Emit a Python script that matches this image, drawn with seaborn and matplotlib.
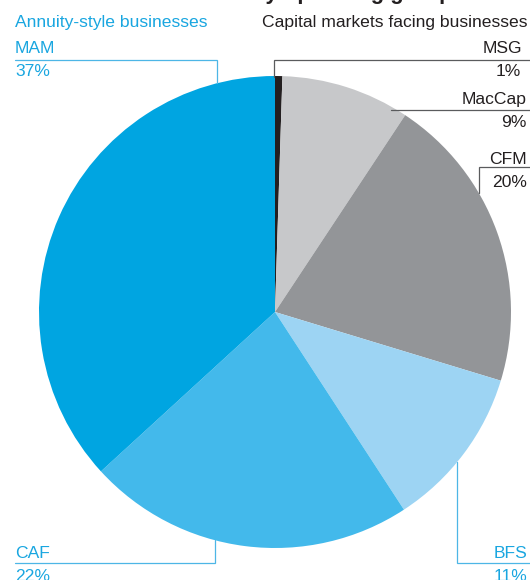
import matplotlib
matplotlib.use("Agg")
from matplotlib import pyplot as plt
import seaborn as sns

"""
Pie of the contribution by operating group, with leader-line labels
"""

# slices, clockwise from 12 o'clock
groups = ["MSG", "MacCap", "CFM", "BFS", "CAF", "MAM"]
shares = [0.5, 8.8, 20.4, 11.1, 22.4, 36.8]   # measured slice sizes
share_labels = ["1%", "9%", "20%", "11%", "22%", "37%"]  # printed values
slice_colors = ["#231F20", "#C7C8CA", "#939598", "#9DD4F3", "#43B9EB", "#00A5E1"]

BLUE_TXT = "#19A6E0"
BLUE_LINE = "#4DB6E6"
DARK_TXT = "#231F20"
GREY_LINE = "#5A5B5D"

W, H = 530, 580

sns.set_theme(style="white")
plt.rcParams['font.family'] = ['Liberation Sans', 'DejaVu Sans']

fig = plt.figure(figsize=(W / 100, H / 100), dpi=100)
ax = fig.add_axes([0, 0, 1, 1])


def Y(py):
    # pixel row (from top) -> data y
    return H - py


ax.pie(shares, colors=slice_colors, startangle=90, counterclock=False,
       center=(275, Y(312)), radius=236,
       wedgeprops=dict(linewidth=0, antialiased=True))
ax.set_xlim(0, W)
ax.set_ylim(0, H)
ax.set_aspect('auto')
ax.axis('off')

fs = 12.6

# title, cropped by the top edge of the picture
ax.text(453, Y(-0.5), "Contribution by operating group", ha='right', va='baseline',
        fontsize=15.8, fontweight='bold', color=DARK_TXT, clip_on=False)

ax.text(15, Y(27), "Annuity-style businesses", ha='left', va='baseline',
        fontsize=fs, color=BLUE_TXT)
ax.text(527, Y(27), "Capital markets facing businesses", ha='right', va='baseline',
        fontsize=fs, color=DARK_TXT)

# (name, x, align, name baseline, value baseline, text colour, line points, line colour)
label_layout = {
    "MAM": (15, 'left', 53, 76, BLUE_TXT, [(15, 60), (217, 60), (217, 83)], BLUE_LINE),
    "CAF": (15, 'left', 558, 581, BLUE_TXT, [(15, 563), (215, 563), (215, 540)], BLUE_LINE),
    "BFS": (527, 'right', 558, 581, BLUE_TXT, [(530, 563), (457, 563), (457, 462)], BLUE_LINE),
    "MSG": (522, 'right', 53, 76, DARK_TXT, [(530, 60), (274, 60), (274, 77)], GREY_LINE),
    "MacCap": (527, 'right', 104, 127, DARK_TXT, [(530, 110), (391, 110)], GREY_LINE),
    "CFM": (527, 'right', 164, 187, DARK_TXT, [(530, 167), (479, 167), (479, 193)], GREY_LINE),
}

for name, value_txt in zip(groups, share_labels):
    x, ha, yb1, yb2, tc, pts, lc = label_layout[name]
    ax.text(x, Y(yb1), name, ha=ha, va='baseline', fontsize=fs, color=tc)
    vx = 521 if name == "MSG" else x
    ax.text(vx, Y(yb2), value_txt, ha=ha, va='baseline', fontsize=fs, color=tc,
            clip_on=False)
    ax.plot([p[0] for p in pts], [Y(p[1]) for p in pts], color=lc, lw=0.9,
            solid_joinstyle='miter')

fig.savefig("out.png", dpi=100)
